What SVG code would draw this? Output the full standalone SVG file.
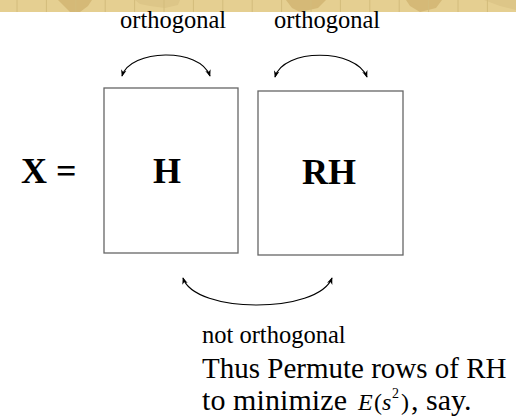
<svg xmlns="http://www.w3.org/2000/svg" width="516" height="419" viewBox="0 0 516 419">
<defs>
<style>
.lbl{font-family:"Liberation Serif","Times New Roman",serif;fill:#000}
.box{fill:#fff;stroke:#666;stroke-width:1.3}
.arc{fill:none;stroke:#000;stroke-width:1.2}
.grid{stroke:#d3bc7c;stroke-width:1}
</style>
<marker id="ah" viewBox="0 0 10 10" refX="9" refY="5" markerWidth="7" markerHeight="7" orient="auto-start-reverse" markerUnits="userSpaceOnUse">
<path d="M0,1 L10,5 L0,9 L3,5 Z" fill="#000"/>
</marker>
</defs>
<rect width="516" height="419" fill="#fff"/>
<g id="banner">
<rect x="0" y="0" width="516" height="12" fill="#e5cf91"/>
<path d="M58,0 L92,0 L88,6 L80,12 L70,12 L64,6 Z" fill="#d5b977"/>
<path d="M135,0 L180,0 L178,5 L165,8 L150,6 L140,4 Z" fill="#ddc688"/>
<path d="M286,0 L326,0 L318,8 L300,12 L292,8 Z" fill="#d5b977"/>
<path d="M406,0 L442,0 L436,8 L420,12 L410,6 Z" fill="#d5b977"/>
<path d="M484,0 L516,0 L516,10 L500,6 Z" fill="#ddc688"/>
<g class="grid">
<line x1="17" y1="0" x2="17" y2="12"/><line x1="46.4" y1="0" x2="46.4" y2="12"/><line x1="75.8" y1="0" x2="75.8" y2="12"/><line x1="105.2" y1="0" x2="105.2" y2="12"/><line x1="134.6" y1="0" x2="134.6" y2="12"/><line x1="164" y1="0" x2="164" y2="12"/><line x1="193.4" y1="0" x2="193.4" y2="12"/><line x1="222.8" y1="0" x2="222.8" y2="12"/><line x1="252.2" y1="0" x2="252.2" y2="12"/><line x1="281.6" y1="0" x2="281.6" y2="12"/><line x1="311" y1="0" x2="311" y2="12"/><line x1="340.4" y1="0" x2="340.4" y2="12"/><line x1="369.8" y1="0" x2="369.8" y2="12"/><line x1="399.2" y1="0" x2="399.2" y2="12"/><line x1="428.6" y1="0" x2="428.6" y2="12"/><line x1="458" y1="0" x2="458" y2="12"/><line x1="487.4" y1="0" x2="487.4" y2="12"/>
</g>
</g>
<g id="label-x">
<text class="lbl" x="21" y="183" font-size="36" font-weight="bold">X =</text>
</g>
<g id="node-h">
<rect class="box" x="104" y="88" width="134" height="165"/>
<text class="lbl" x="167" y="183" font-size="36" font-weight="bold" text-anchor="middle">H</text>
</g>
<g id="node-rh">
<rect class="box" x="258" y="91" width="145" height="164"/>
<text class="lbl" x="329" y="184" font-size="36" font-weight="bold" text-anchor="middle">RH</text>
</g>
<g id="connectors">
<path class="arc" d="M122,76 C130,49 200,47 210,76" marker-start="url(#ah)" marker-end="url(#ah)"/>
<path class="arc" d="M275,77 C283,48 356,48 367,77" marker-start="url(#ah)" marker-end="url(#ah)"/>
<path class="arc" d="M183,278 C195,314 318,314 332,278" marker-start="url(#ah)" marker-end="url(#ah)"/>
</g>
<g id="labels">
<text class="lbl" x="120" y="28" font-size="24.5">orthogonal</text>
<text class="lbl" x="274" y="28" font-size="24.5">orthogonal</text>
<text class="lbl" x="202" y="343" font-size="24.5">not orthogonal</text>
<text class="lbl" x="202" y="378" font-size="29">Thus Permute rows of RH</text>
<text class="lbl" x="202" y="410" font-size="30" textLength="145" lengthAdjust="spacing">to minimize</text>
<text class="lbl" y="410" font-size="24"><tspan x="358" font-style="italic">E</tspan><tspan x="374">(</tspan><tspan x="382" font-style="italic">s</tspan><tspan x="392" y="398" font-size="14">2</tspan><tspan x="401" y="410">)</tspan></text>
<text class="lbl" x="411" y="410" font-size="30">, say.</text>
</g>
</svg>
